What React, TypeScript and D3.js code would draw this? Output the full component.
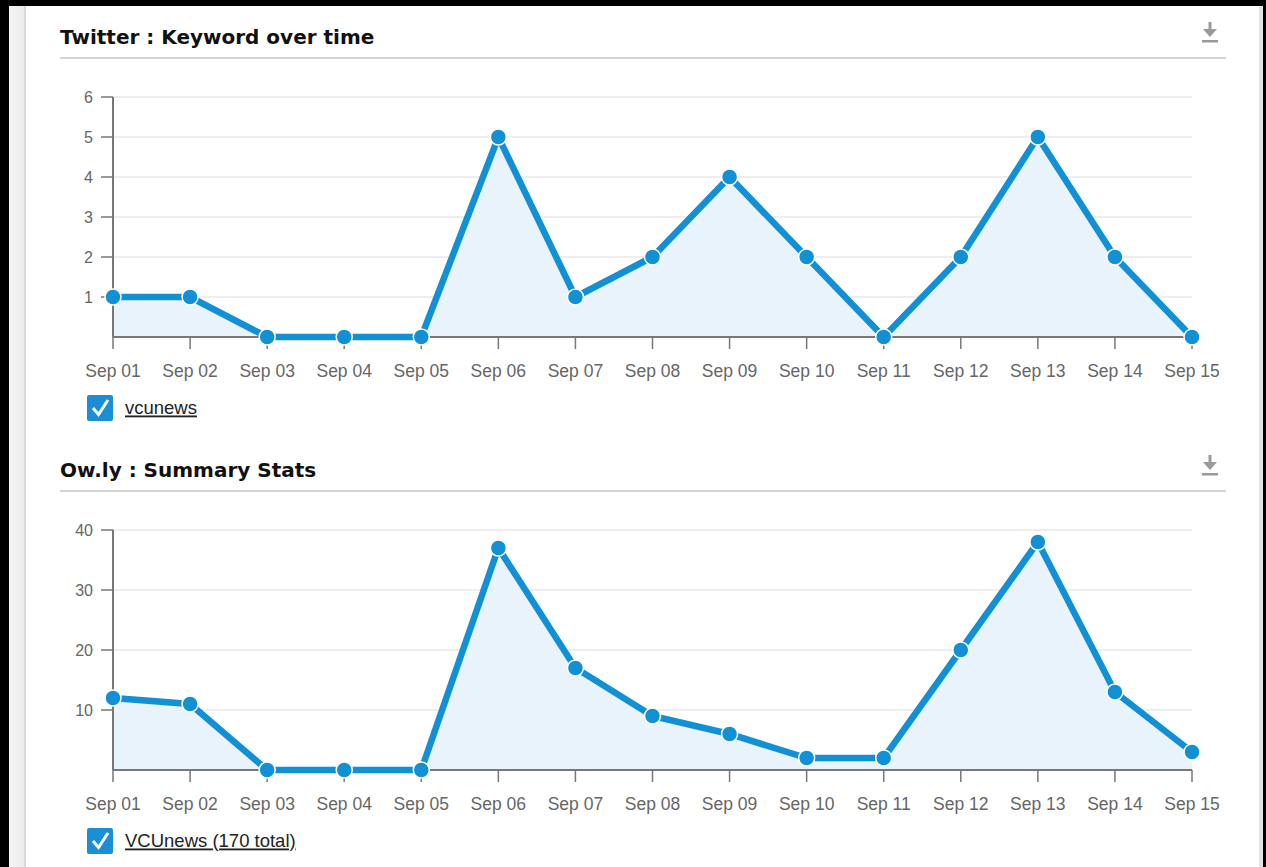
import React from 'react';
import * as d3 from 'd3';

const days = ['Sep 01', 'Sep 02', 'Sep 03', 'Sep 04', 'Sep 05', 'Sep 06', 'Sep 07', 'Sep 08',
  'Sep 09', 'Sep 10', 'Sep 11', 'Sep 12', 'Sep 13', 'Sep 14', 'Sep 15'];

const twitterCounts = [1, 1, 0, 0, 0, 5, 1, 2, 4, 2, 0, 2, 5, 2, 0];
const twitterTicks = [1, 2, 3, 4, 5, 6];

const owlyCounts = [12, 11, 0, 0, 0, 37, 17, 9, 6, 2, 2, 20, 38, 13, 3];
const owlyTicks = [10, 20, 30, 40];

const BLUE = '#1190d6';
const FONT = '"Liberation Sans", Arial, sans-serif';

const Chart = ({ top, title, values, ticks, yMax, legend }) => {
  const x = d3.scalePoint().domain(days).range([113, 1192]);
  const y = d3.scaleLinear().domain([0, yMax]).range([top + 297, top + 57]);
  const base = y(0);

  const line = d3.line().x((d, i) => x(days[i])).y(d => y(d));
  const area = d3.area().x((d, i) => x(days[i])).y0(base).y1(d => y(d));

  return (
    <g>
      <text x={60} y={top + 4} fontFamily='"DejaVu Sans", Verdana, sans-serif' fontWeight="bold"
        fontSize={20} fill="#111">{title}</text>
      <line x1={60} x2={1226} y1={top + 18} y2={top + 18} stroke="#d4d4d4" strokeWidth={2} />
      {/* download icon */}
      <g transform={`translate(1210, ${top - 10})`} fill="#9a9a9a">
        <rect x={-1.5} y={-8} width={3} height={8} />
        <path d="M -7 -1 L 7 -1 L 0 7 Z" />
        <rect x={-8} y={10} width={16} height={2.5} />
      </g>

      {ticks.map(t => (
        <g key={t}>
          <line x1={113} x2={1192} y1={y(t)} y2={y(t)} stroke="#e8e8e8" strokeWidth={1.5} />
          <line x1={101} x2={113} y1={y(t)} y2={y(t)} stroke="#777" strokeWidth={1.5} />
          <text x={93} y={y(t)} dy="0.35em" textAnchor="end" fontFamily={FONT} fontSize={16}
            fill="#666">{t}</text>
        </g>
      ))}

      <path d={area(values)} fill="#e9f3fb" />
      <line x1={113} x2={113} y1={y(yMax)} y2={base} stroke="#777" strokeWidth={2} />
      <line x1={113} x2={1192} y1={base} y2={base} stroke="#777" strokeWidth={2} />
      {days.map(d => (
        <g key={d}>
          <line x1={x(d)} x2={x(d)} y1={base} y2={base + 12} stroke="#777" strokeWidth={1.5} />
          <text x={x(d)} y={base + 34} dy="0.35em" textAnchor="middle" fontFamily={FONT}
            fontSize={17.5} fill="#666">{d}</text>
        </g>
      ))}

      <path d={line(values)} fill="none" stroke={BLUE} strokeWidth={6.5} strokeLinejoin="miter" />
      {values.map((v, i) => (
        <circle key={i} cx={x(days[i])} cy={y(v)} r={8} fill={BLUE} stroke="#fff" strokeWidth={1.5} />
      ))}

      {/* legend */}
      <g transform={`translate(87, ${base + 58})`}>
        <rect x={0} y={0} width={26} height={26} rx={2} fill="#1a8fd8" />
        <path d="M 6 13 L 11.5 19.5 L 21 5" fill="none" stroke="#fff" strokeWidth={3} />
        <text x={38} y={13} dy="0.35em" fontFamily={FONT} fontSize={18.5} fill="#222"
          textDecoration="underline">{legend}</text>
      </g>
    </g>
  );
};

export default function App() {
  return (
    <div style={{ position: 'absolute', left: 0, top: 0 }}>
      <svg width={1266} height={867} style={{ display: 'block' }}>
        <defs>
          <linearGradient id="edge" x1="0" x2="1" y1="0" y2="0">
            <stop offset="0" stopColor="#f4f4f4" />
            <stop offset="1" stopColor="#ececec" />
          </linearGradient>
        </defs>
        <rect width={1266} height={867} fill="#000" />
        <rect x={9} y={6} width={1254} height={861} fill="#fff" />
        <rect x={9} y={6} width={15} height={861} fill="url(#edge)" />
        <rect x={24} y={6} width={2} height={861} fill="#d9d9d9" />
        <rect x={1259} y={6} width={4} height={861} fill="#e3e3e3" />

        <Chart top={40} title="Twitter : Keyword over time" values={twitterCounts}
          ticks={twitterTicks} yMax={6} legend="vcunews" />
        <Chart top={473} title="Ow.ly : Summary Stats" values={owlyCounts}
          ticks={owlyTicks} yMax={40} legend="VCUnews (170 total)" />
      </svg>
    </div>
  );
}
